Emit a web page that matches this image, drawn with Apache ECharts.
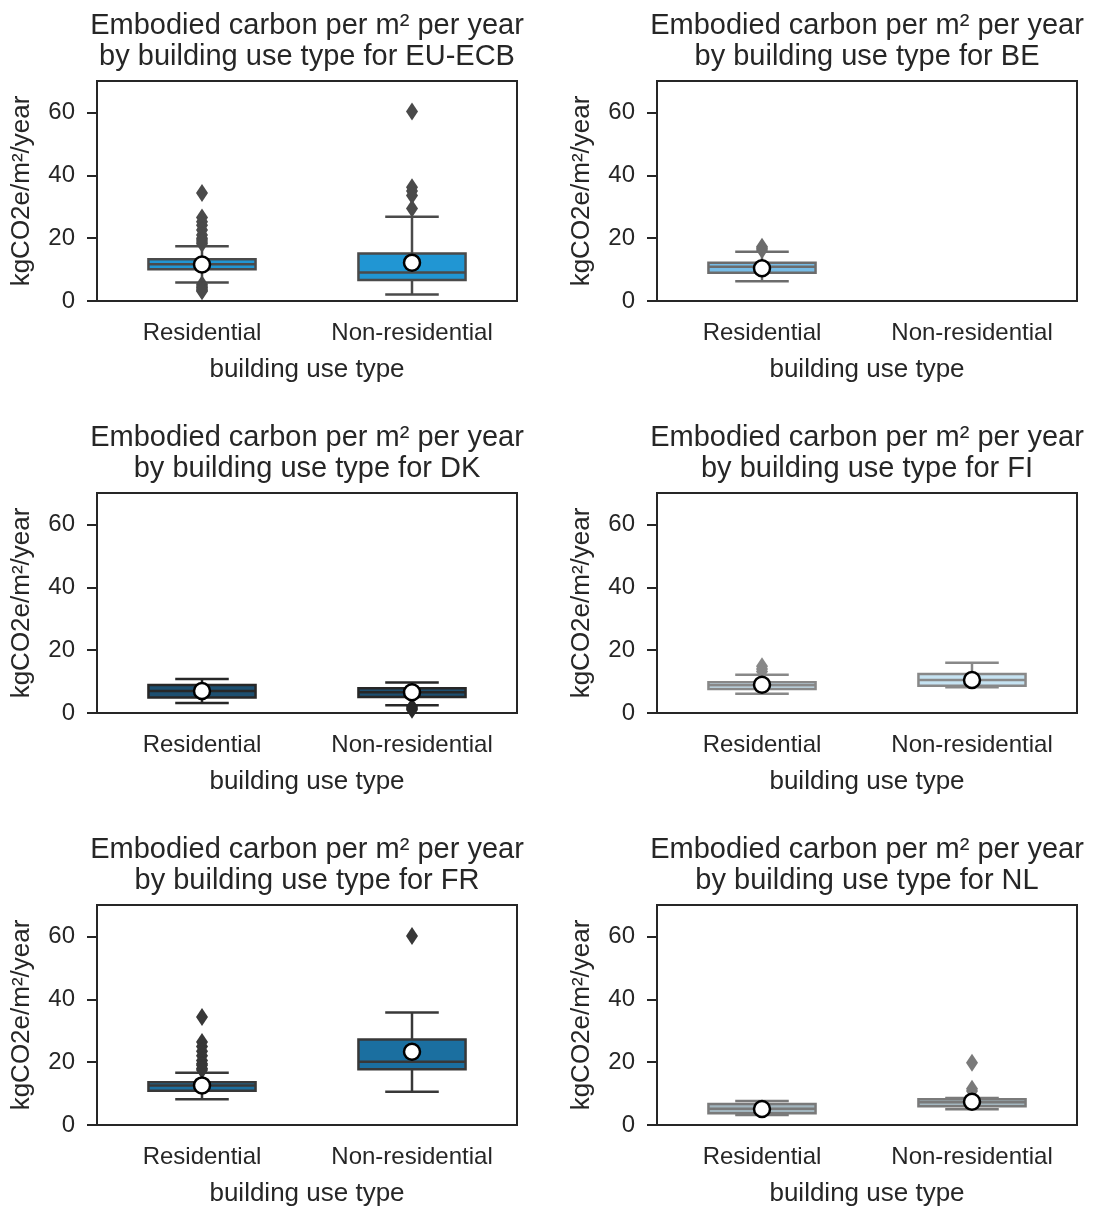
<!DOCTYPE html>
<html>
<head>
<meta charset="utf-8">
<title>Embodied carbon by building use type</title>
<script src="https://cdn.jsdelivr.net/npm/echarts@6.0.0/dist/echarts.min.js"></script>
<style>
  html, body { margin: 0; padding: 0; background: #fff; }
  #Main { width: 1094px; height: 1210px; }
</style>
</head>
<body>
<div id="Main"></div>
<script>
// categories and panels
var categories = ['Residential', 'Non-residential'];
var regions = ['EU-ECB', 'BE', 'DK', 'FI', 'FR', 'NL'];
var yTicks = [0, 20, 40, 60];

// box stats per category: [lower whisker, q1, median, q3, upper whisker]
var euEcbBoxes = [[5.9, 10.1, 11.7, 13.3, 17.4], [2.1, 6.7, 9.1, 15.1, 26.8]];
var euEcbMeans = [11.6, 12.2];
var euEcbOutliers = [
	[34.4, 26.6, 25.2, 24.1, 22.6, 21.0, 20.0, 19.4, 18.8, 18.2, 5.3, 4.8, 4.3, 3.8, 3.4, 3.1],
	[60.3, 36.2, 35.0, 33.6, 29.4]
];

var beBoxes = [[6.3, 9.0, 10.9, 12.2, 15.7], null];
var beMeans = [10.4, null];
var beOutliers = [[17.3, 16.8, 16.2], []];

var dkBoxes = [[3.2, 4.9, 7.0, 8.9, 10.8], [2.5, 5.1, 6.6, 7.9, 9.7]];
var dkMeans = [7.0, 6.6];
var dkOutliers = [[], [2.0, 1.5, 1.0]];

var fiBoxes = [[6.1, 7.6, 8.8, 9.8, 12.2], [8.2, 8.7, 10.5, 12.4, 16.0]];
var fiMeans = [9.0, 10.5];
var fiOutliers = [[14.9, 14.0, 13.2], []];

var frBoxes = [[8.2, 10.9, 12.6, 13.6, 16.6], [10.6, 17.7, 20.1, 27.2, 35.8]];
var frMeans = [12.6, 23.3];
var frOutliers = [
	[34.4, 26.4, 25.0, 23.5, 22.0, 20.5, 19.5, 19.0, 18.0, 17.5],
	[60.1]
];

var nlBoxes = [[3.2, 3.7, 5.2, 6.7, 7.6], [5.0, 6.0, 7.2, 8.2, 8.6]];
var nlMeans = [5.1, 7.4];
var nlOutliers = [[], [19.8, 11.5, 10.8]];

var allBoxes = [euEcbBoxes, beBoxes, dkBoxes, fiBoxes, frBoxes, nlBoxes];
var allMeans = [euEcbMeans, beMeans, dkMeans, fiMeans, frMeans, nlMeans];
var allOutliers = [euEcbOutliers, beOutliers, dkOutliers, fiOutliers, frOutliers, nlOutliers];

// styles
var fillColors = ['#2196d3', '#77bce6', '#1d4f70', '#c6e3f2', '#1b6fa0', '#a3b6bf'];
var edgeColors = ['#4a4a4a', '#6c6c6c', '#272727', '#888888', '#383838', '#7a7a7a'];
var textColor = '#262626';
var fontFamily = 'Liberation Sans';
var gridLefts = [97, 657];
var gridTops = [81, 493, 905];
var gridW = 420, gridH = 220;

//箱体绘制: box, whiskers, caps, median
function makeRender(fill, edge) {
	return function (params, api) {
		var cat = api.value(0);
		var pLow = api.coord([cat, api.value(1)]);
		var pQ1 = api.coord([cat, api.value(2)]);
		var pMed = api.coord([cat, api.value(3)]);
		var pQ3 = api.coord([cat, api.value(4)]);
		var pHigh = api.coord([cat, api.value(5)]);
		var bw = (api.coord([1, 0])[0] - api.coord([0, 0])[0]) * 0.51;
		var cw = bw / 2;
		var x = pMed[0];
		function seg(x1, y1, x2, y2) {
			return { type: 'line', shape: { x1: x1, y1: y1, x2: x2, y2: y2 }, style: { stroke: edge, lineWidth: 2.5 } };
		}
		return {
			type: 'group',
			children: [
				seg(x, pQ3[1], x, pHigh[1]),
				seg(x, pQ1[1], x, pLow[1]),
				seg(x - cw / 2, pHigh[1], x + cw / 2, pHigh[1]),
				seg(x - cw / 2, pLow[1], x + cw / 2, pLow[1]),
				{ type: 'rect', shape: { x: x - bw / 2, y: pQ3[1], width: bw, height: pQ1[1] - pQ3[1] },
					style: { fill: fill, stroke: edge, lineWidth: 2.5 } },
				seg(x - bw / 2, pMed[1], x + bw / 2, pMed[1])
			]
		};
	};
}

function buildOption(useCustomTicks) {
	var titles = [], grids = [], xAxes = [], yAxes = [], series = [];
	for (var i = 0; i < regions.length; i++) {
		var col = i % 2, row = Math.floor(i / 2);
		var left = gridLefts[col], top = gridTops[row];
		titles.push({
			text: 'Embodied carbon per m² per year\nby building use type for ' + regions[i],
			left: left + gridW / 2,
			top: top - 71,
			padding: 0,
			textAlign: 'center',
			textStyle: { fontSize: 29, fontWeight: 'normal', color: textColor, fontFamily: fontFamily, lineHeight: 31 }
		});
		grids.push({
			left: left, top: top, width: gridW, height: gridH,
			show: true, borderColor: '#262626', borderWidth: 2
		});
		xAxes.push({
			type: 'category', gridIndex: i, data: categories,
			name: 'building use type', nameLocation: 'middle', nameGap: 56, nameMoveOverlap: false,
			nameTextStyle: { fontSize: 26, color: textColor, fontFamily: fontFamily },
			axisLine: { lineStyle: { color: '#262626', width: 2 } },
			axisTick: { alignWithLabel: true, length: 10, lineStyle: { color: '#262626', width: 2 } },
			axisLabel: { fontSize: 24, color: textColor, fontFamily: fontFamily, margin: 20 },
			splitLine: { show: false }
		});
		var yTick = { show: true, length: 10, lineStyle: { color: '#262626', width: 2 } };
		var yLabel = { fontSize: 24, color: textColor, fontFamily: fontFamily, margin: 22 };
		if (useCustomTicks) {
			yTick.customValues = yTicks;
			yLabel.customValues = yTicks;
		} else {
			yLabel.showMaxLabel = false;
		}
		yAxes.push({
			type: 'value', gridIndex: i, min: 0, max: 70, interval: 20,
			name: 'kgCO2e/m²/year', nameLocation: 'middle', nameGap: 62, nameMoveOverlap: false,
			nameTextStyle: { fontSize: 26, color: textColor, fontFamily: fontFamily },
			axisLine: { show: true, lineStyle: { color: '#262626', width: 2 } },
			axisTick: yTick,
			axisLabel: yLabel,
			splitLine: { show: false }
		});

		var boxData = [];
		for (var c = 0; c < categories.length; c++) {
			var b = allBoxes[i][c];
			if (b) boxData.push([c, b[0], b[1], b[2], b[3], b[4]]);
		}
		series.push({
			type: 'custom', xAxisIndex: i, yAxisIndex: i, z: 2,
			encode: { x: 0, y: [1, 2, 3, 4, 5] },
			data: boxData,
			renderItem: makeRender(fillColors[i], edgeColors[i])
		});

		var outData = [];
		for (var c2 = 0; c2 < categories.length; c2++) {
			var arr = allOutliers[i][c2];
			for (var k = 0; k < arr.length; k++) outData.push([c2, arr[k]]);
		}
		series.push({
			type: 'scatter', xAxisIndex: i, yAxisIndex: i, z: 3,
			symbol: 'diamond', symbolSize: [12, 18],
			itemStyle: { color: edgeColors[i], opacity: 1 },
			data: outData
		});

		var meanData = [];
		for (var c3 = 0; c3 < categories.length; c3++) {
			if (allMeans[i][c3] != null) meanData.push([c3, allMeans[i][c3]]);
		}
		series.push({
			type: 'scatter', xAxisIndex: i, yAxisIndex: i, z: 4,
			symbol: 'circle', symbolSize: 16,
			itemStyle: { color: '#ffffff', borderColor: '#000000', borderWidth: 2.5, opacity: 1 },
			data: meanData
		});
	}
	return {
		animation: false,
		backgroundColor: '#ffffff',
		title: titles,
		grid: grids,
		xAxis: xAxes,
		yAxis: yAxes,
		series: series
	};
}

// 绘制, 出错时重新初始化再试一次
var dom = document.getElementById('Main');
var tries = [true, true, false];
for (var t = 0; t < tries.length; t++) {
	var myChart = echarts.init(dom);
	try {
		myChart.setOption(buildOption(tries[t]));
		break;
	} catch (e) {
		console.log('render failed', t, e);
		myChart.dispose();
	}
}
</script>
</body>
</html>
